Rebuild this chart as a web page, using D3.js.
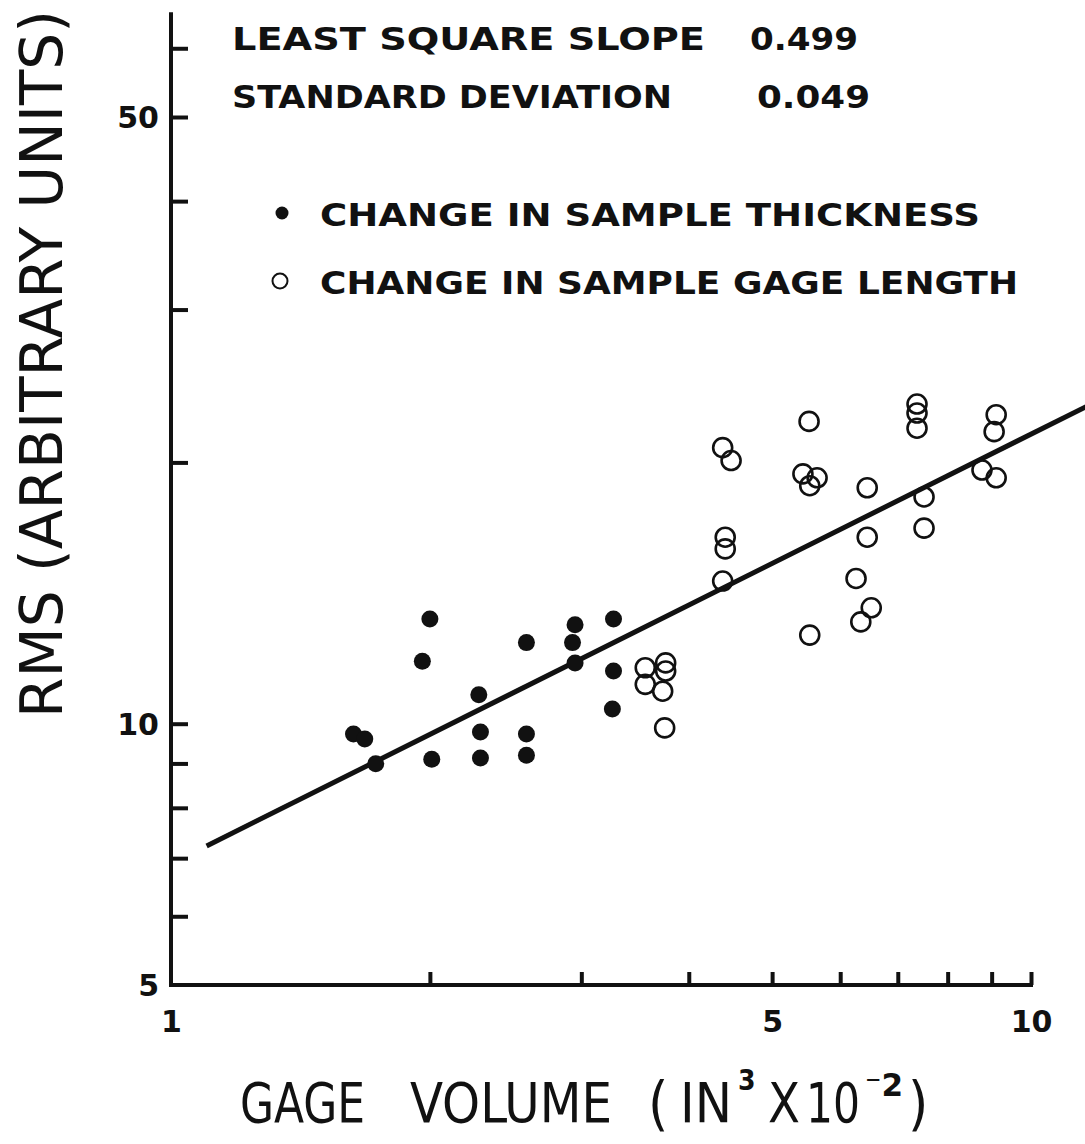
<!DOCTYPE html>
<html>
<head>
<meta charset="utf-8">
<script src="https://cdn.jsdelivr.net/npm/d3@7"></script>
<style>
  body { margin: 0; background: #fff; }
  svg { display: block; }
  .lbl { font-family: "DejaVu Sans", sans-serif; font-weight: bold; fill: #111; }
  .ttl { font-family: "DejaVu Sans Condensed", "DejaVu Sans", sans-serif; fill: #111; }
</style>
</head>
<body>
<div id="chart"></div>
<script>
// data (log-log)
var thicknessX = [2.00, 1.96, 1.63, 1.68, 1.73, 2.01, 2.28, 2.29, 2.29, 2.59, 2.59, 2.59, 2.95, 2.93, 2.95, 3.27, 3.27, 3.26];
var thicknessY = [13.2, 11.8, 9.73, 9.60, 8.99, 9.10, 10.8, 9.78, 9.13, 12.4, 9.73, 9.20, 13.0, 12.4, 11.75, 13.2, 11.5, 10.4];

var gageX = [3.56, 3.76, 3.76, 3.56, 3.73, 3.75, 4.38, 4.48, 5.52, 5.43, 5.64, 5.53, 6.45, 7.37, 7.37, 7.37,
             9.11, 9.06, 8.77, 9.11, 7.51, 7.51, 4.41, 4.41, 4.38, 6.45, 6.26, 6.52, 6.34, 5.53];
var gageY = [11.6, 11.75, 11.5, 11.1, 10.9, 9.89, 20.8, 20.1, 22.3, 19.4, 19.2, 18.8, 18.7, 23.35, 22.8, 21.9,
             22.7, 21.7, 19.6, 19.2, 18.25, 16.8, 16.4, 15.9, 14.6, 16.4, 14.7, 13.6, 13.1, 12.65];

// least square line, end points as drawn
var fitX = [1.10, 11.6];
var fitY = [7.23, 23.2];

var xTicks = [2, 3, 4, 5, 6, 7, 8, 9, 10];
var xLabels = [1, 5, 10];
var yTicks = [5, 6, 7, 8, 9, 10, 20, 30, 40, 50, 60];
var yLabels = [5, 10, 50];
var yTop = 66;

var W = 1085, H = 1144;

var svg = d3.select("#chart").append("svg")
    .attr("width", W)
    .attr("height", H);

var x = d3.scaleLog().domain([1, 10]).range([171, 1031]);
var y = d3.scaleLog().domain([5, 50]).range([985, 117]);

// axes
var yAxis = d3.axisLeft(y)
    .tickValues(yTicks)
    .tickSizeInner(-17)
    .tickSizeOuter(0)
    .tickPadding(12)
    .tickFormat(function(d) { return yLabels.indexOf(d) >= 0 ? d : ""; });

var gy = svg.append("g").attr("transform", "translate(" + x(1) + ",0)").call(yAxis);
gy.select(".domain").remove();
gy.selectAll(".tick line").attr("stroke", "#111").attr("stroke-width", 4);
gy.selectAll(".tick text").attr("class", "lbl").style("font-size", "30px").attr("dy", "0.36em");
gy.selectAll(".tick").filter(function(d) { return d === 5; }).select("line").remove();
gy.append("line")
    .attr("x1", 0).attr("x2", 0)
    .attr("y1", y(5) + 2).attr("y2", y(yTop))
    .attr("stroke", "#111").attr("stroke-width", 4);

var xAxis = d3.axisBottom(x)
    .tickValues([1].concat(xTicks))
    .tickSizeInner(-13)
    .tickSizeOuter(0)
    .tickPadding(26)
    .tickFormat(function(d) { return xLabels.indexOf(d) >= 0 ? d : ""; });

var gx = svg.append("g").attr("transform", "translate(0," + y(5) + ")").call(xAxis);
gx.select(".domain").remove();
gx.selectAll(".tick line").attr("stroke", "#111").attr("stroke-width", 4);
gx.selectAll(".tick").filter(function(d) { return d === 1; }).select("line").remove();
gx.selectAll(".tick text").attr("class", "lbl").style("font-size", "30px").attr("dy", "0.71em");
gx.append("line")
    .attr("x1", x(1) - 2).attr("x2", x(10) + 2)
    .attr("y1", 0).attr("y2", 0)
    .attr("stroke", "#111").attr("stroke-width", 4);

// fit line
var fit = fitX.map(function(v, i) { return [v, fitY[i]]; });
svg.append("path")
    .datum(fit)
    .attr("fill", "none")
    .attr("stroke", "#111")
    .attr("stroke-width", 5)
    .attr("d", d3.line().x(function(d) { return x(d[0]); }).y(function(d) { return y(d[1]); }));

// points
var thick = thicknessX.map(function(v, i) { return [v, thicknessY[i]]; });
var gage = gageX.map(function(v, i) { return [v, gageY[i]]; });

svg.append("g").selectAll("circle")
    .data(gage).enter().append("circle")
    .attr("cx", function(d) { return x(d[0]); })
    .attr("cy", function(d) { return y(d[1]); })
    .attr("r", 9.5)
    .attr("fill", "none")
    .attr("stroke", "#111")
    .attr("stroke-width", 2.6);

svg.append("g").selectAll("circle")
    .data(thick).enter().append("circle")
    .attr("cx", function(d) { return x(d[0]); })
    .attr("cy", function(d) { return y(d[1]); })
    .attr("r", 8.5)
    .attr("fill", "#111");

// annotations
function put(t, px, py, len, size) {
  return svg.append("text").attr("class", "lbl")
      .attr("x", px).attr("y", py)
      .attr("textLength", len).attr("lengthAdjust", "spacingAndGlyphs")
      .style("font-size", size + "px")
      .text(t);
}
put("LEAST SQUARE SLOPE", 232, 50, 473, 32);
put("0.499", 750, 50, 108, 32);
put("STANDARD DEVIATION", 232, 108, 440, 32);
put("0.049", 757, 108, 113, 32);

svg.append("circle").attr("cx", 282).attr("cy", 213).attr("r", 6.5).attr("fill", "#111");
put("CHANGE IN SAMPLE THICKNESS", 320, 226, 660, 32);
svg.append("circle").attr("cx", 280).attr("cy", 281).attr("r", 7.5)
    .attr("fill", "none").attr("stroke", "#111").attr("stroke-width", 2);
put("CHANGE IN SAMPLE GAGE LENGTH", 320, 294, 698, 32);

// axis titles
svg.append("text").attr("class", "ttl")
    .attr("transform", "translate(62,718) rotate(-90)")
    .attr("textLength", 708).attr("lengthAdjust", "spacingAndGlyphs")
    .style("font-size", "58px")
    .text("RMS (ARBITRARY UNITS)");

function title(t, px, py, len, size) {
  var el = svg.append("text").attr("class", "ttl")
      .attr("x", px).attr("y", py)
      .style("font-size", size + "px")
      .text(t);
  if (len) el.attr("textLength", len).attr("lengthAdjust", "spacingAndGlyphs");
  return el;
}
title("GAGE", 240, 1122, 125, 55);
title("VOLUME", 410, 1122, 202, 55);
title("(", 648, 1124, 0, 58);
title("IN", 680, 1122, 52, 55);
title("3", 738, 1090, 0, 28).style("font-weight", "bold");
title("X", 768, 1122, 32, 55);
title("10", 806, 1122, 54, 55);
title("\u207B2", 865, 1096, 38, 32).style("font-weight", "bold");
title(")", 908, 1124, 0, 58);
</script>
</body>
</html>
